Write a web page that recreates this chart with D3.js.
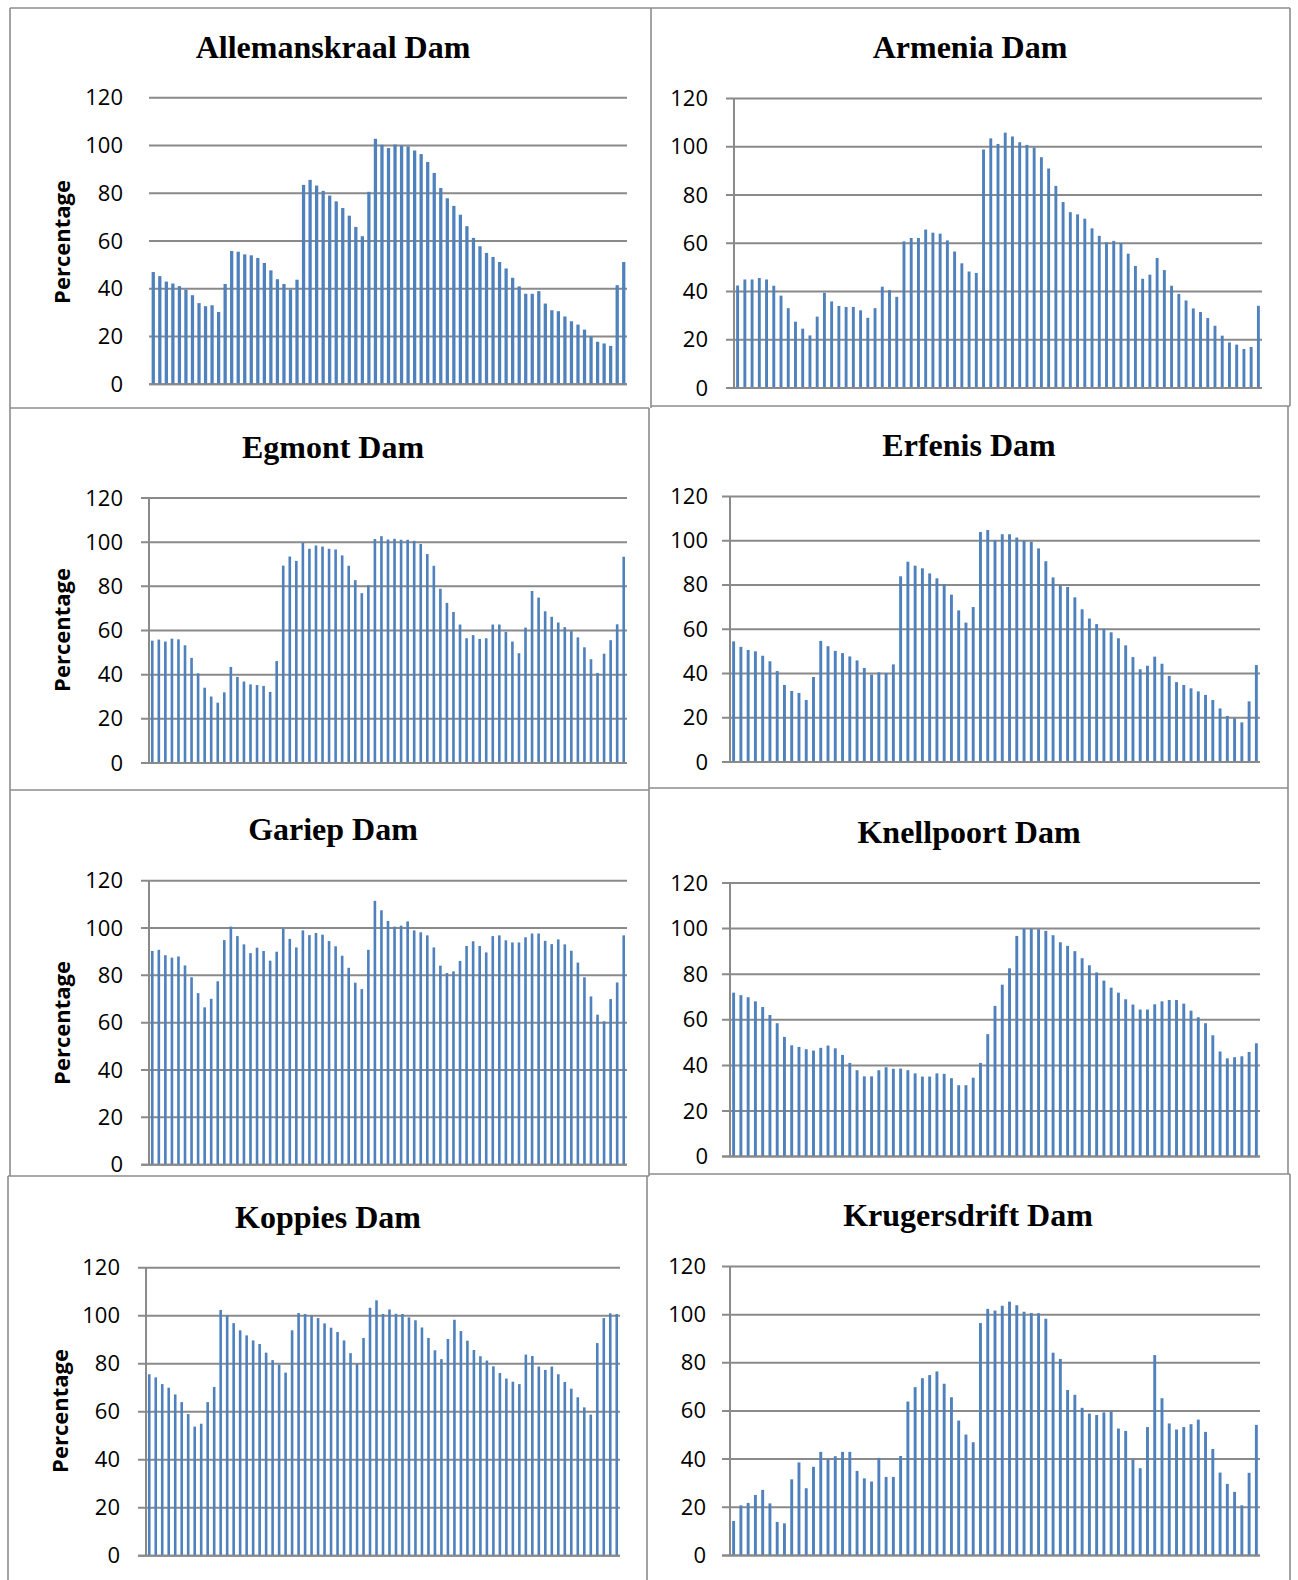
<!DOCTYPE html>
<html>
<head>
<meta charset="utf-8">
<script src="https://cdn.jsdelivr.net/npm/d3@7"></script>
<style>
  body{margin:0;background:#fff;}
  svg{display:block;}
</style>
</head>
<body>
<div id="chart"></div>
<script>
// Dam storage levels (percentage of full supply), one value per period
const allemanskraal = [47,45.3,43,42.2,41.1,39.6,37.3,34,32.7,33.1,30.3,42,55.8,55.5,54.4,54,52.9,50.8,47.7,44,42,39.7,43.8,83.5,85.6,83.2,81,79,76.6,73.8,70.6,65.9,62,80.6,102.8,100.3,98.9,100.4,100,99.6,97.9,96.4,93.1,88.5,82.2,77.9,74.7,71,66.2,61.3,57.8,55,53.3,51.2,48.5,44.6,41,37.9,37.9,39,33.8,31,30.6,28.4,26.4,25,22.9,20,17.8,17.1,16.1,41.5,51.2];
const armenia = [42.5,45,45,45.6,45,42.4,38.3,33.1,27.5,24.6,21.8,29.6,39.5,35.9,34,33.6,33.6,32.2,29.1,33.1,42,40.6,37.8,60.8,62.2,62.2,65.7,64.4,64,61.2,56.6,51.7,48.3,47.7,98.9,103.5,101.2,105.9,104.3,101.9,100.8,99.7,95.7,91,83.8,77.1,72.9,72,70.2,66.2,63.1,60.4,61,60.1,55.7,50.6,45.3,47,53.9,48.9,42.4,39,36.3,33,31.5,29,25.8,21.7,18.9,18,16.2,17,34.1];
const egmont = [55.4,55.9,55,56.3,56,53.3,47.6,40.6,34.1,30.1,27.3,32,43.5,39,36.9,35.6,35.3,34.9,32.2,46.2,89.4,93.5,91.5,99.7,97,98.5,98,97,96.7,94,89.3,82.8,76.9,80.5,101.4,102.7,101.2,101.5,101.1,101.1,100.6,99.2,94.6,89.3,78.9,72.5,68.4,62.7,56.5,57.9,56.2,56.5,62.7,62.7,59.4,55,49.7,61.3,77.9,74.9,68.7,66.2,63.6,61.5,59.7,56.9,52.4,47,40.8,49.5,55.6,62.8,93.4];
const erfenis = [54.5,52,50.6,50,48,45.5,41.1,34.8,32.1,31.2,28,38.4,54.7,52.3,50.2,49.2,47.7,45.9,42.5,39.5,40.5,40.2,44.1,83.9,90.5,88.7,87.5,85.2,83,80.3,75.6,68.5,63,70,103.9,104.8,100.3,102.9,102.9,101.4,100,99.5,96.5,90.7,83.4,79.7,79.1,74.4,69,64.8,62.3,60.2,58.6,55.9,52.7,47.4,41.9,43.5,47.6,44.4,38.9,36.1,34.8,33.3,31.9,30.3,28,24.2,20.8,19.7,17.9,27.4,43.8];
const gariep = [90.3,90.8,88.5,87.5,88,84.2,79.2,72.5,66.5,70.1,77.5,94.9,100.6,96.6,93.1,89.4,91.7,90.3,86.2,90,99.7,95.4,91.8,99,97,97.9,97.2,94.5,92.3,88.3,83.2,76.9,74.2,90.8,111.5,107.5,103,100.6,101,102.8,99,98.2,96.9,91.8,84.1,81,81.7,86.1,92.4,94.4,92.4,89.7,96.6,96.9,94.8,93.9,93.9,96.1,97.7,97.7,94.6,93.2,95.2,93.1,90.4,85.4,79.2,71.1,63.4,60.6,70,77,96.9];
const knellpoort = [71.9,70.8,69.9,68.1,65.6,62.1,58.5,52.5,48.8,48.1,47.1,46.5,47.7,48.7,47.5,44.6,41.1,37.9,35.2,35.2,37.9,39.2,38.5,38.6,37.9,36.5,35.1,35.1,36.5,36.3,34.4,31.3,31.3,34.6,41.1,53.7,66.1,75.4,82.6,96.8,100,100,99.7,99,97.1,94,92.4,90.1,87,83.9,80.8,77.2,74.1,71.9,69,66.7,64.5,64.5,66.8,68.1,68.7,68.7,67.1,64,61.1,58.5,53.2,46.1,43.1,43.6,44,45.9,49.7];
const koppies = [75.6,74.3,71.5,70,67.2,64,59,53.8,55,64,70.3,102.4,100.1,96.9,93.9,91.8,89.7,88.2,84.6,81.5,79.6,76.3,93.9,101.1,100.7,100,99,96.8,95,93.2,89.7,84.4,79.9,90.7,103.3,106.4,100.7,102.6,100.8,100.7,99.3,98.1,95.1,90.7,85.6,81.9,90.3,98.3,93.6,89.6,85.7,83.1,81.3,78.9,76.1,73.8,72.5,71.5,83.8,83.2,78.8,77.4,78.8,75.6,72.4,69.6,66,61.8,58.8,88.6,99,101,100.7];
const krugersdrift = [14.3,20.8,21.8,25.1,27.2,21.6,13.9,13.3,31.6,38.6,27.9,36.8,43,39.9,41.2,43,43,35.1,32,30.7,40.5,32.6,32.6,41.3,63.9,69.9,73.6,74.9,76.4,71.3,65.7,56,50.2,47,96.5,102.4,101.7,103.7,105.4,103.9,101.2,100.7,100.6,98.3,84.2,81.6,68.7,66.7,61.3,58.9,58.3,59.4,59.8,52.7,51.7,39.8,36.2,53.3,83.2,65.3,54.8,52.3,53.3,54.5,56.4,51.3,44.2,34.4,29.7,26.4,20.8,34.3,54.2];

const damNames = ['Allemanskraal Dam','Armenia Dam','Egmont Dam','Erfenis Dam','Gariep Dam','Knellpoort Dam','Koppies Dam','Krugersdrift Dam'];
const damValues = [allemanskraal, armenia, egmont, erfenis, gariep, knellpoort, koppies, krugersdrift];
const yTicks = [0,20,40,60,80,100,120];
const yLabel = 'Percentage';

const W = 1298, H = 1580;
const barColor = '#4f81bd', gridColor = '#8a8a8a', borderColor = '#8c8c8c';

// placement of each small chart on the page
const layout = [
  {x0:150, x1:627,  yb:384.3,  yt:97.7,   lab:123, tx:333, ty:58,   px:61,   py:242,  pad:0.5,  axis:false},
  {x0:734, x1:1262, yb:388,    yt:98.6,   lab:708, tx:970, ty:58,   pad:0.6, axis:true},
  {x0:149, x1:627,  yb:763,    yt:498,    lab:123, tx:333, ty:458,  px:61,   py:630,  pad:0.6, axis:true},
  {x0:730, x1:1260, yb:762,    yt:496.4,  lab:708, tx:969, ty:456,  pad:0.6, axis:true},
  {x0:149, x1:627,  yb:1164.7, yt:880.7,  lab:123, tx:333, ty:840,  px:61,   py:1023, pad:0.6, axis:true},
  {x0:730, x1:1260, yb:1156.6, yt:883,    lab:708, tx:969, ty:843,  pad:0.6, axis:true},
  {x0:146, x1:620,  yb:1555.7, yt:1267.7, lab:120, tx:328, ty:1228, px:58.5, py:1411, pad:0.6, axis:true},
  {x0:730, x1:1260, yb:1555.4, yt:1266.5, lab:706, tx:968, ty:1226, pad:0.6, axis:true}
];

// table cell borders
const borders = [
  [10,8,1290,8],[10,8,10,1176],[8,1176,8,1580],
  [651,8,651,408],[649,408,649,1176],[647,1176,647,1580],
  [1290,8,1290,406],[1288,406,1288,1174],[1290,1174,1290,1580],
  [10,408,649,408],[651,406,1290,406],
  [10,790,649,790],[649,788,1288,788],
  [8,1176,649,1176],[649,1174,1290,1174]
];

const svg = d3.select('#chart').append('svg')
  .attr('width', W).attr('height', H)
  .attr('viewBox', `0 0 ${W} ${H}`);

svg.append('g').selectAll('line').data(borders).enter().append('line')
  .attr('x1', d=>d[0]).attr('y1', d=>d[1]).attr('x2', d=>d[2]).attr('y2', d=>d[3])
  .attr('stroke', borderColor).attr('stroke-width', 1.6);

damValues.forEach((vals, i) => {
  const p = layout[i];
  const g = svg.append('g');

  const x = d3.scaleBand().domain(d3.range(vals.length))
    .range([p.x0, p.x1]).paddingInner(p.pad).paddingOuter(p.pad/2);
  const y = d3.scaleLinear().domain([0,120]).range([p.yb, p.yt]);

  // grid lines (with outside tick marks when the axis is drawn)
  g.append('g').selectAll('line').data(yTicks).enter().append('line')
    .attr('x1', p.axis ? p.x0 - 8 : p.x0 - 1).attr('x2', p.x1)
    .attr('y1', d=>y(d)).attr('y2', d=>y(d))
    .attr('stroke', gridColor).attr('stroke-width', 2);

  g.append('g').selectAll('rect').data(vals).enter().append('rect')
    .attr('x', (d,j)=>x(j))
    .attr('width', x.bandwidth())
    .attr('y', d=>y(d))
    .attr('height', d=>y(0)-y(d))
    .attr('fill', barColor);

  if (p.axis) {
    g.append('line')
      .attr('x1', p.x0).attr('x2', p.x0)
      .attr('y1', y(120)).attr('y2', y(0))
      .attr('stroke', gridColor).attr('stroke-width', 2);
  }
  g.append('line')
    .attr('x1', p.axis ? p.x0 - 8 : p.x0 - 1).attr('x2', p.x1)
    .attr('y1', y(0)).attr('y2', y(0))
    .attr('stroke', gridColor).attr('stroke-width', 2);

  g.append('g').selectAll('text').data(yTicks).enter().append('text')
    .attr('x', p.lab).attr('y', d=>y(d) + 7.5)
    .attr('text-anchor', 'end')
    .attr('font-family', '"Open Sans", "Liberation Sans", sans-serif')
    .attr('font-size', 22).attr('fill', '#000')
    .text(d=>d);

  g.append('text')
    .attr('x', p.tx).attr('y', p.ty)
    .attr('text-anchor', 'middle')
    .attr('font-family', '"Liberation Serif", "Times New Roman", serif')
    .attr('font-weight', 'bold').attr('font-size', 32)
    .text(damNames[i]);

  if (p.px !== undefined) {
    g.append('text')
      .attr('transform', `translate(${p.px},${p.py}) rotate(-90)`)
      .attr('text-anchor', 'middle')
      .attr('dominant-baseline', 'central')
      .attr('font-family', '"Open Sans", "Liberation Sans", sans-serif')
      .attr('font-weight', 'bold').attr('font-size', 22)
      .text(yLabel);
  }
});
</script>
</body>
</html>
